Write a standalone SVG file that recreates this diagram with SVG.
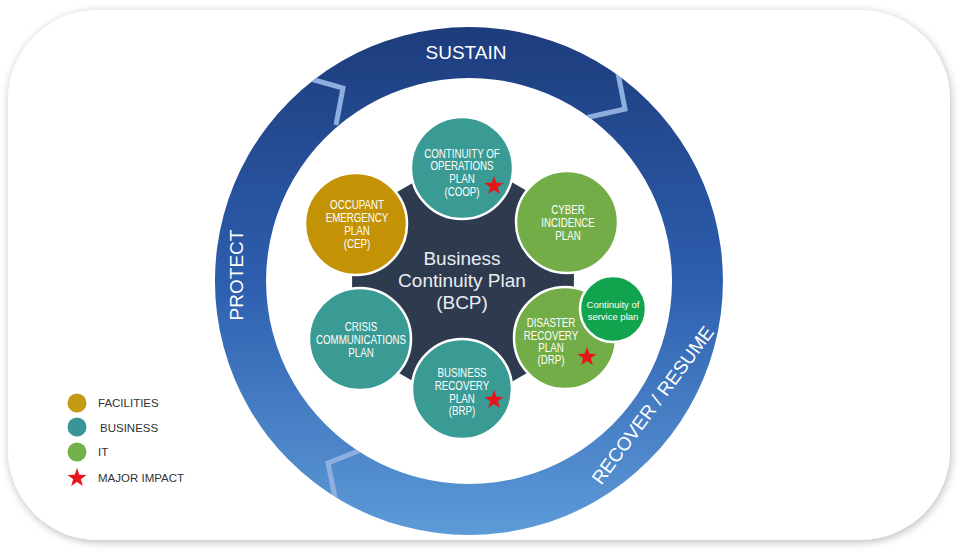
<svg xmlns="http://www.w3.org/2000/svg" width="966" height="554" viewBox="0 0 966 554">
<style>
.lbl{font-family:"Liberation Sans",Arial,sans-serif;font-size:12.5px;fill:#ffffff;text-anchor:middle}
.sm{font-family:"Liberation Sans",Arial,sans-serif;font-size:9.5px;fill:#ffffff;text-anchor:middle}
.big{font-family:"Liberation Sans",Arial,sans-serif;font-size:19px;fill:#ffffff;text-anchor:middle}
.ctr{font-family:"Liberation Sans",Arial,sans-serif;font-size:19px;fill:#e9edf2;text-anchor:middle}
.leg{font-family:"Liberation Sans",Arial,sans-serif;font-size:11.5px;fill:#333333}
.node{stroke:#ffffff;stroke-width:2.5}
.biz{fill:#3a9a94}
.it{fill:#72ad48}
.fac{fill:#c49205}
.chev{fill:none;stroke:#8eaee0;stroke-width:5;stroke-linejoin:miter}
.star{fill:#e8141c}
</style>
<defs>
<linearGradient id="ringGrad" x1="0" y1="0" x2="0" y2="1">
<stop offset="0" stop-color="#1d3c7c"/>
<stop offset="0.5" stop-color="#2d5eae"/>
<stop offset="1" stop-color="#5d9bd8"/>
</linearGradient>
<filter id="shadow" x="-5%" y="-5%" width="110%" height="112%">
<feDropShadow dx="1" dy="2" stdDeviation="4" flood-color="#000" flood-opacity="0.28"/>
</filter>
<clipPath id="ringClip">
<path d="M469,27 A254,254 0 1 1 468.9,27 Z M469,78 A203,203 0 1 0 469.1,78 Z" clip-rule="evenodd"/>
</clipPath>
<path id="star" d="M0,-10 L2.35,-3.24 L9.51,-3.09 L3.8,1.24 L5.88,8.09 L0,4 L-5.88,8.09 L-3.8,1.24 L-9.51,-3.09 L-2.35,-3.24 Z"/>
</defs>
<rect x="0" y="0" width="966" height="554" fill="#ffffff"/>
<g id="card">
<rect x="8" y="10" width="942" height="530" rx="90" ry="90" fill="#ffffff" filter="url(#shadow)"/>
</g>
<g id="ring">
<path d="M469,27 A254,254 0 1 1 468.9,27 Z M469,78 A203,203 0 1 0 469.1,78 Z" fill="url(#ringGrad)" fill-rule="evenodd"/>
<text class="big" x="466" y="59">SUSTAIN</text>
<text class="big" transform="translate(243 275) rotate(-90)" x="0" y="0">PROTECT</text>
<text class="big" transform="translate(658 409) rotate(-53.5)" x="0" y="0">RECOVER / RESUME</text>
</g>
<g id="connectors" clip-path="url(#ringClip)">
<polyline class="chev" points="300,76 343,88 336,125"/>
<polyline class="chev" points="617,68 625,109 585,118"/>
<polyline class="chev" points="361,450 328,463 336,502"/>
</g>
<g id="hub">
<polygon points="463,154 573.9,218 573.9,346 463,410 352.1,346 352.1,218" fill="#2e3a4d"/>
<text class="ctr" x="462" y="265">Business</text>
<text class="ctr" x="462" y="287">Continuity Plan</text>
<text class="ctr" x="462" y="309">(BCP)</text>
</g>
<g id="node-coop">
<circle class="node biz" cx="462" cy="168" r="51"/>
<g transform="translate(462 0) scale(0.78 1)">
<text class="lbl" x="0" y="158">CONTINUITY OF</text>
<text class="lbl" x="0" y="170">OPERATIONS</text>
<text class="lbl" x="0" y="183">PLAN</text>
<text class="lbl" x="0" y="196">(COOP)</text>
</g>
<use href="#star" class="star" x="494" y="186"/>
</g>
<g id="node-cep">
<circle class="node fac" cx="356" cy="224" r="51"/>
<g transform="translate(357 0) scale(0.78 1)">
<text class="lbl" x="0" y="209">OCCUPANT</text>
<text class="lbl" x="0" y="222">EMERGENCY</text>
<text class="lbl" x="0" y="235">PLAN</text>
<text class="lbl" x="0" y="248">(CEP)</text>
</g>
</g>
<g id="node-cyber">
<circle class="node it" cx="567" cy="222" r="51"/>
<g transform="translate(568 0) scale(0.78 1)">
<text class="lbl" x="0" y="214">CYBER</text>
<text class="lbl" x="0" y="227">INCIDENCE</text>
<text class="lbl" x="0" y="240">PLAN</text>
</g>
</g>
<g id="node-drp">
<circle class="node it" cx="565" cy="338" r="51"/>
<g transform="translate(551 0) scale(0.78 1)">
<text class="lbl" x="0" y="327">DISASTER</text>
<text class="lbl" x="0" y="340">RECOVERY</text>
<text class="lbl" x="0" y="352">PLAN</text>
<text class="lbl" x="0" y="364">(DRP)</text>
</g>
<use href="#star" class="star" x="587" y="357"/>
</g>
<g id="node-cosp">
<circle class="node" cx="613" cy="309" r="33" fill="#12a34e"/>
<text class="sm" x="613" y="308">Continuity of</text>
<text class="sm" x="613" y="320">service plan</text>
</g>
<g id="node-crisis">
<circle class="node biz" cx="360" cy="339" r="51"/>
<g transform="translate(361 0) scale(0.78 1)">
<text class="lbl" x="0" y="331">CRISIS</text>
<text class="lbl" x="0" y="344">COMMUNICATIONS</text>
<text class="lbl" x="0" y="357">PLAN</text>
</g>
</g>
<g id="node-brp">
<circle class="node biz" cx="462" cy="389" r="50"/>
<g transform="translate(462 0) scale(0.78 1)">
<text class="lbl" x="0" y="377">BUSINESS</text>
<text class="lbl" x="0" y="390">RECOVERY</text>
<text class="lbl" x="0" y="403">PLAN</text>
<text class="lbl" x="0" y="415">(BRP)</text>
</g>
<use href="#star" class="star" x="494" y="400"/>
</g>
<g id="legend">
<circle cx="77" cy="403" r="9.5" fill="#c49a14"/>
<text class="leg" x="98" y="407">FACILITIES</text>
<circle cx="77" cy="427" r="9.5" fill="#3a9696"/>
<text class="leg" x="100" y="432">BUSINESS</text>
<circle cx="77" cy="452" r="9.5" fill="#72b04a"/>
<text class="leg" x="98" y="456">IT</text>
<use href="#star" class="star" x="77" y="478"/>
<text class="leg" x="98" y="482">MAJOR IMPACT</text>
</g>
</svg>
